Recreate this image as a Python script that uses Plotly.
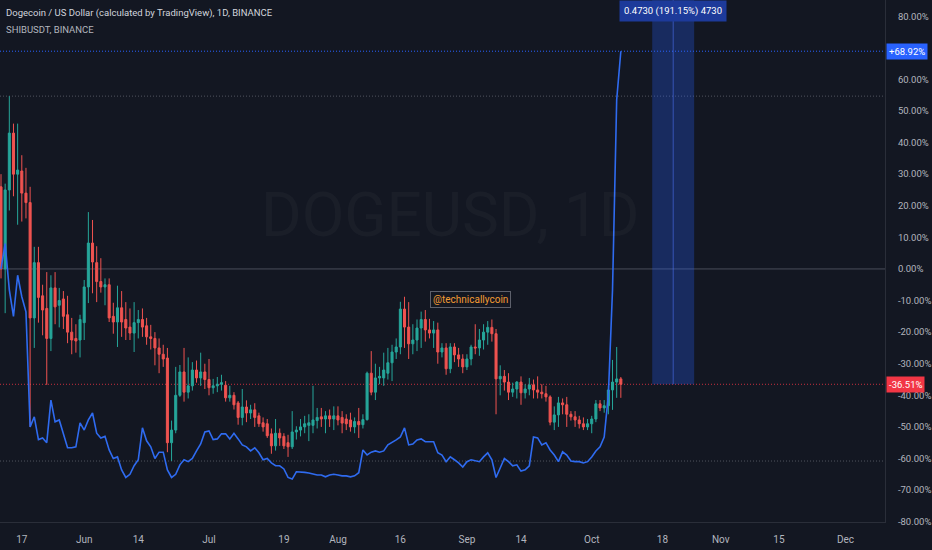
import plotly.graph_objects as go
import pandas as pd

# ---------------- data (percent change vs. first bar close) ----------------
start_date = "2021-05-12"
doge_open = [26, 0, 25, 43, 30, 31, 24, 21, -15.5, 2, -8.5, -12.5, -22, -6, -11.5, -9.5, -14.5, -20, -22, -22.5,
             -17, -5.7, 8.2, 2, -4, -5.7, -5, -15, -16.8, -12.3, -16, -18.4, -20.3, -17, -16, -18, -21.5, -22, -25, -27,
             -28.2, -55, -51, -40, -32.6, -39, -37, -32, -34.5, -32.6, -35, -37.6, -37, -36.5, -36.8, -40.8, -40, -42.4, -47, -43.7,
             -45.6, -44.6, -46.5, -48.7, -49, -52.2, -56, -52, -53, -55, -56.3, -51.6, -51, -50, -49.5, -49.5, -48, -46.8, -47.5, -46.5,
             -47.5, -46.5, -47, -47.5, -47.8, -50, -48.3, -49.3, -47.7, -33, -39, -34.5, -34.5, -33, -29.7, -26.3, -24.7, -12.7, -18.4, -23.7,
             -22.5, -18.7, -16, -19.3, -20.3, -19.3, -26.3, -25, -31.6, -24.7, -27.2, -28.5, -31, -28.5, -24.7, -25, -22.5, -20, -18.5, -20.5,
             -34.8, -34, -35.8, -39, -38, -35.8, -39.2, -38, -36.7, -38.3, -39, -39.5, -40.5, -48.5, -46.2, -42.4, -43, -46, -46.8, -47.8,
             -49, -50, -49, -47.5, -42.7, -44, -43.3, -38.3, -35.8, -34.8]
doge_high = [30, 27, 54.7, 46, 46, 36, 32, 26, 7, 7, -5, -1, -2, -1, -6, -7, -8.5, -15.5, -17.5, -14.5,
             -3.5, 18, 15.5, 7.2, 3.4, -3, -3, -10.7, -5.3, -7, -10.5, -12.5, -10.5, -13, -12.5, -15.5, -17.7, -20, -22, -24,
             -25, -48, -31, -30.4, -25, -28, -29.5, -29, -26.5, -30, -28.5, -34.8, -34.2, -33.5, -35.5, -37, -39, -41.8, -38, -41.6,
             -43, -42.5, -45.5, -47, -47.5, -50.5, -47.5, -50.5, -52, -52.5, -45, -49.8, -47.5, -46.5, -46, -37, -44, -44, -45, -44.5,
             -43.5, -43.5, -45, -46, -45.5, -47, -44, -46, -32.5, -26, -30, -31, -26.5, -25, -24, -22, -10.4, -8.8, -10.5, -17.5,
             -16, -13.5, -13, -15.8, -16.5, -17, -23.5, -23.5, -23.5, -23.5, -25, -27, -27, -24, -17.5, -19, -17.5, -16.5, -16, -19,
             -30.5, -32, -33, -36, -35.5, -34, -36.5, -34.5, -35, -34, -36.5, -37, -40, -43.5, -40.5, -41, -40.5, -45, -45, -46.5,
             -47, -47.5, -46.5, -41.5, -41.5, -41.5, -37, -28.8, -24.7, -34.2]
doge_low = [-3, -14, 18.5, 23, 14, 15, 16, -50, -25, -17, -21, -36.7, -26, -17.5, -18.5, -19, -23.5, -27, -26.5, -28,
            -22.5, -10.8, -7.7, -10.5, -7.5, -11.5, -16.8, -20.5, -24.7, -21.5, -22.5, -22.5, -26.3, -22, -21.5, -24, -25.5, -30.5, -33, -31,
            -58, -60.8, -52, -40.5, -42, -41, -38.5, -36, -37, -38, -40, -39.5, -39, -38.5, -42, -42, -44.5, -49.3, -49.5, -48.5,
            -47.5, -50, -50, -51.5, -53.5, -58.5, -57.5, -56, -57, -59.5, -57, -54, -53, -52, -54.5, -52, -50.5, -50, -52, -50,
            -51, -49.5, -52, -51, -51.5, -52, -53.5, -50.5, -48, -40, -41.5, -36.5, -37, -35, -35.5, -28.5, -27, -25, -28.5, -27,
            -26, -25, -23, -22, -25, -30, -28, -33.5, -33, -29.5, -31, -33, -32, -30.5, -27, -27.5, -25.5, -24, -23, -46,
            -40, -38.5, -41.5, -40.5, -41, -43, -41, -40, -41, -41, -41, -42, -49.5, -51, -50, -46, -50, -48, -50, -50.5,
            -51, -51, -52, -48.5, -45, -45.5, -46, -44.6, -40.8, -40.8]
doge_close = [0, 25, 43, 30, 31.3, 24, 21, -15.5, 2, -9, -13, -22, -6, -12, -10, -15, -20, -22.5, -22.8, -16,
              -5.7, 8.2, 2.2, -4, -5.7, -5, -15.5, -16.8, -12.3, -16.8, -18.7, -20.3, -17, -16, -18.4, -21.5, -22, -25, -27, -28.5,
              -55, -51, -40, -32.6, -39, -37, -32, -34.5, -32.6, -35, -37.6, -37, -36.5, -36, -40.8, -40, -43, -47, -43.7, -45.6,
              -44.6, -47, -49, -50, -52.8, -56, -52, -53.5, -56, -56.3, -51.6, -51, -50, -49, -48.7, -47.8, -47, -47.5, -46.5, -47.5,
              -46.5, -47.8, -48.8, -49, -50, -48.3, -49.3, -47.7, -33, -39, -34.5, -34, -32, -29.7, -26.3, -24.7, -12.7, -18.4, -23.7, -22.5,
              -18.7, -16, -19.3, -20.3, -19.3, -26.3, -25, -31.6, -24.7, -27.2, -28.5, -31, -28.5, -24.7, -25, -22.5, -20, -18.5, -20.5, -34.8,
              -34, -35.8, -39, -38, -35.8, -39.2, -38, -36.7, -38.3, -39, -39.5, -40.5, -48.5, -46.2, -42.4, -43, -46, -46.8, -47.8, -49,
              -50, -49, -47.5, -42.7, -44, -43.3, -38.3, -35.8, -34.8, -36.51]
shib_close = [0, 8, -6.6, -15, -2, -8.8, -13.6, -50, -46.8, -54, -53.5, -55, -41.5, -48.4, -47.8, -52, -56.6, -56.6, -56.3, -48.7,
              -51, -47.8, -45.6, -52, -53.5, -53, -57.3, -60, -59.5, -63.6, -66, -65, -62.3, -60.4, -50.3, -54.4, -56.3, -60, -58, -58,
              -63.6, -66, -65, -62, -60.4, -61, -60, -57.6, -55.4, -51.6, -51.3, -54, -53.8, -52.2, -52.2, -53.8, -52, -53.8, -55.7, -56.3,
              -57.6, -56.6, -58.2, -60.4, -60, -61.4, -62.3, -62.3, -63.3, -66, -66.5, -64.2, -64.2, -64.4, -64.6, -65, -65.2, -65.2, -65.8, -65.2,
              -65, -65.2, -65.5, -65.5, -65.8, -65.5, -64.5, -57.3, -58.9, -58, -57.6, -58, -57.6, -55.7, -55, -54.1, -53.2, -50.3, -55.7, -55.4,
              -54.1, -53.8, -54.7, -54.7, -54.7, -58.2, -58.9, -61, -59.5, -60.4, -61.4, -62.7, -61, -60.4, -60.8, -61, -59.5, -58.2, -60.4, -66,
              -63, -60, -61, -62.3, -62, -64, -63.6, -62.3, -53.2, -53.5, -55.7, -55, -57.3, -58.9, -61, -57.9, -58.9, -60.8, -61, -61,
              -61.4, -61, -59.5, -57.6, -56.3, -53.2, -40, -6.6, 53.5, 68.92]

# 70% label is hidden behind the +68.92% price label in the reference
y_tick_vals = [80, 60, 50, 40, 30, 20, 10, 0, -10, -20, -30, -40, -50, -60, -70, -80]
x_tick_dates = ["2021-05-17", "2021-06-01", "2021-06-14", "2021-07-01", "2021-07-19", "2021-08-01", "2021-08-16",
                "2021-09-01", "2021-09-14", "2021-10-01", "2021-10-18", "2021-11-01", "2021-11-15", "2021-12-01"]
x_tick_text = ["17", "Jun", "14", "Jul", "19", "Aug", "16", "Sep", "14", "Oct", "18", "Nov", "15", "Dec"]

doge_last = -36.51
shib_last = 68.92
doge_max_high = 54.7
doge_min_low = -60.8
measure_text = "0.4730 (191.15%) 4730"
measure_x0 = "2021-10-15 13:00"
measure_x1 = "2021-10-25 15:00"
measure_mid = "2021-10-20 14:00"

dates = pd.date_range(start_date, periods=len(doge_close), freq="D")

BG = "#131722"
TXT = "#d1d4dc"
AX = "#b2b5be"
FONT = "Roboto, Lato, sans-serif"
BLUE = "#2962ff"
RED = "#f23645"
DOTS = "1px,2px"

fig = go.Figure()

# measurement rectangle (behind marks)
fig.add_shape(type="rect", xref="x", yref="y", x0=measure_x0, x1=measure_x1, y0=doge_last, y1=200,
              fillcolor="rgba(41,98,255,0.28)", line_width=0, layer="below")
fig.add_shape(type="line", xref="x", yref="y", x0=measure_mid, x1=measure_mid, y0=doge_last, y1=200,
              line=dict(color="rgba(80,120,255,0.55)", width=1), layer="below")

# horizontal reference lines
fig.add_hline(y=0, line=dict(color="#4a4e59", width=1), layer="below")
fig.add_hline(y=shib_last, line=dict(color=BLUE, width=1, dash=DOTS), layer="below")
fig.add_hline(y=doge_max_high, line=dict(color="#50535e", width=1, dash=DOTS), layer="below")
fig.add_hline(y=doge_last, line=dict(color="rgba(242,54,69,0.8)", width=1, dash=DOTS), layer="below")
fig.add_hline(y=doge_min_low, line=dict(color="#50535e", width=1, dash=DOTS), layer="below")

fig.add_trace(go.Candlestick(
    x=dates, open=doge_open, high=doge_high, low=doge_low, close=doge_close,
    increasing=dict(line=dict(color="#26a69a", width=1), fillcolor="#26a69a"),
    decreasing=dict(line=dict(color="#ef5350", width=1), fillcolor="#ef5350"),
    whiskerwidth=0, showlegend=False, hoverinfo="skip"))

fig.add_trace(go.Scatter(x=dates, y=shib_close, mode="lines",
                         line=dict(color="#2f6bf0", width=1.6), showlegend=False, hoverinfo="skip"))

# watermark
fig.add_annotation(xref="paper", yref="paper", x=450 / 885, y=1 - 215 / 522, text="DOGEUSD, 1D", showarrow=False,
                   font=dict(family=FONT, size=62, color="rgba(255,255,255,0.03)"))

# header
fig.add_annotation(xref="paper", yref="paper", x=4 / 885, y=1 - 13 / 522, xanchor="left", yanchor="middle",
                   text="Dogecoin / US Dollar (calculated by TradingView), 1D, BINANCE", showarrow=False,
                   font=dict(family=FONT, size=9.5, color=TXT))
fig.add_annotation(xref="paper", yref="paper", x=4 / 885, y=1 - 29 / 522, xanchor="left", yanchor="middle",
                   text="SHIBUSDT, BINANCE", showarrow=False,
                   font=dict(family=FONT, size=9.5, color=AX))

# signature label
fig.add_annotation(xref="paper", yref="paper", x=470 / 885, y=1 - 299 / 522, xanchor="center", yanchor="middle",
                   text="@technicallycoin", showarrow=False, bgcolor="#131722",
                   bordercolor="#5d606b", borderwidth=1, borderpad=2,
                   font=dict(family=FONT, size=10, color="#f29b33"))

# measurement label
fig.add_annotation(xref="x", yref="paper", x=measure_mid, y=1.0, xanchor="center", yanchor="top",
                   text=measure_text, showarrow=False, bgcolor="#1d3a9a", borderpad=4,
                   font=dict(family=FONT, size=9.5, color="#ffffff"))

# last value labels on price scale
fig.add_annotation(xref="paper", yref="y", x=1 + 1 / 885, y=shib_last, xanchor="left", yanchor="middle",
                   text="+68.92%", showarrow=False, bgcolor=BLUE, borderpad=2,
                   font=dict(family=FONT, size=9.5, color="#ffffff"))
fig.add_annotation(xref="paper", yref="y", x=1 + 1 / 885, y=doge_last, xanchor="left", yanchor="middle",
                   text="-36.51%", showarrow=False, bgcolor=RED, borderpad=2,
                   font=dict(family=FONT, size=9.5, color="#ffffff"))

fig.update_layout(
    width=932, height=550,
    margin=dict(l=0, r=47, t=0, b=28),
    paper_bgcolor=BG, plot_bgcolor=BG,
    font=dict(family=FONT, color=AX, size=10),
    showlegend=False,
    xaxis=dict(type="date", range=["2021-05-11 18:14", "2021-12-10 12:00"], rangeslider=dict(visible=False),
               showgrid=False, zeroline=False, showline=True, linecolor="#2a2e39", linewidth=1,
               tickvals=x_tick_dates, ticktext=x_tick_text, ticks="", ticklabelstandoff=8,
               tickfont=dict(family=FONT, size=10, color=AX)),
    yaxis=dict(side="right", range=[-80.1, 85.13], showgrid=False, zeroline=False,
               showline=True, linecolor="#2a2e39", linewidth=1,
               tickvals=y_tick_vals, ticktext=[f"{v:.2f}%" for v in y_tick_vals], ticks="",
               ticklabelstandoff=10, tickfont=dict(family=FONT, size=9.5, color=AX)),
)

fig.write_html("out.html", config={"displayModeBar": False},
               post_script="document.body.style.margin='0';document.body.style.background='#131722';")
